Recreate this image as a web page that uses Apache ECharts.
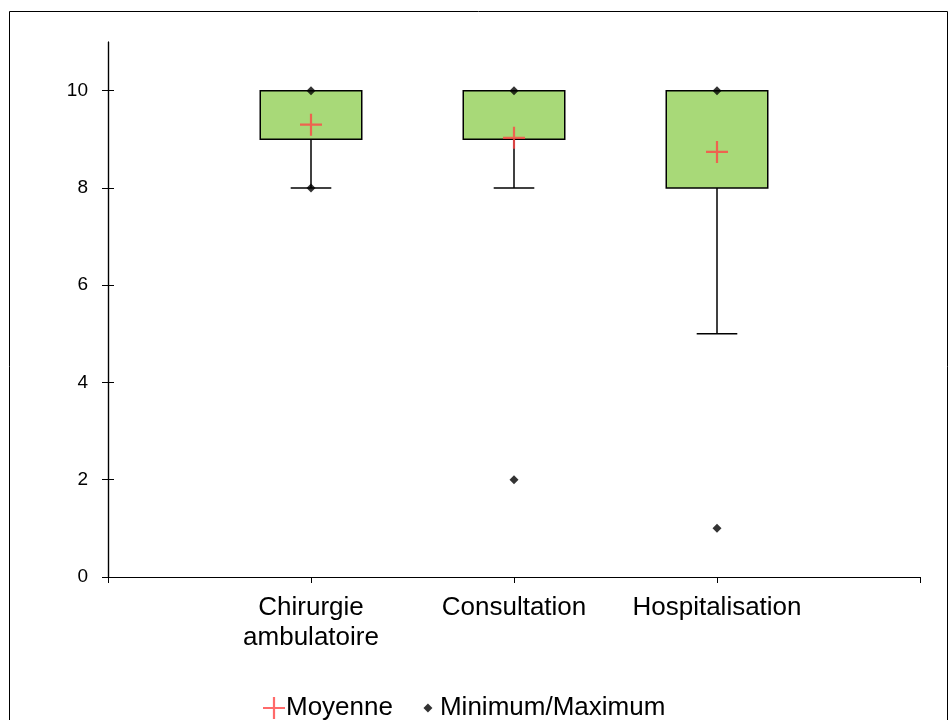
<!DOCTYPE html>
<html>
<head>
<meta charset="utf-8">
<script src="https://cdn.jsdelivr.net/npm/echarts@6/dist/echarts.min.js"></script>
<style>html,body{margin:0;padding:0;background:#fff}#c{width:951px;height:720px}</style>
</head>
<body>
<div id="c"></div>
<script>
const categories = ['Chirurgie\nambulatoire', 'Consultation', 'Hospitalisation'];
const q1 = [9, 9, 8];
const q3 = [10, 10, 10];
const whiskerLow = [8, 8, 5];
const whiskerHigh = [10, 10, 10];
const mean = [9.3, 9.03, 8.74];
const minimum = [8, 2, 1];
const maximum = [10, 10, 10];
const yTicks = [0, 2, 4, 6, 8, 10];

const FONT = '"Liberation Sans", Arial, sans-serif';
const boxData = categories.map((c, i) => [i + 1, q1[i], q3[i], whiskerLow[i], whiskerHigh[i]]);
const meanData = categories.map((c, i) => [i + 1, mean[i]]);
const minMaxData = [];
categories.forEach((c, i) => { minMaxData.push([i + 1, minimum[i]]); minMaxData.push([i + 1, maximum[i]]); });

const plusPath = 'path://M0,4.5H10V5.5H0Z M4.5,0H5.5V10H4.5Z';
const smallDiamond = 'path://M0,0M22,22M11,6.5L15.5,11L11,15.5L6.5,11Z';

const chart = echarts.init(document.getElementById('c'));
chart.setOption({
  animation: false,
  backgroundColor: '#fff',
  graphic: [{
    type: 'rect', silent: true,
    shape: { x: 9.5, y: 11.5, width: 938, height: 730 },
    style: { fill: 'none', stroke: '#000', lineWidth: 1 }
  }],
  grid: { left: 108, right: 31, top: 42, bottom: 143 },
  legend: {
    left: 258, top: 690,
    itemWidth: 22, itemHeight: 22, itemGap: 24,
    textStyle: { fontFamily: FONT, fontSize: 26, color: '#000', padding: [0, 0, 0, -4] },
    data: [
      { name: 'Moyenne', icon: plusPath, itemStyle: { color: '#ff4545' } },
      { name: 'Minimum/Maximum', icon: smallDiamond, itemStyle: { color: '#000' } }
    ]
  },
  xAxis: {
    type: 'value', min: 0, max: 4, interval: 1,
    splitLine: { show: false },
    axisLine: { show: true, lineStyle: { color: '#000', width: 1.2 } },
    axisTick: { show: true, length: 6, lineStyle: { color: '#000' }, customValues: [0, 1, 2, 3, 4] },
    axisLabel: {
      customValues: [1, 2, 3],
      margin: 16,
      fontFamily: FONT, fontSize: 26, color: '#000', lineHeight: 30,
      formatter: v => categories[Math.round(v) - 1] || ''
    }
  },
  yAxis: [{
    type: 'value', min: 0, max: 11, interval: 2,
    splitLine: { show: false },
    axisLine: { show: true, lineStyle: { color: '#000', width: 1.2 } },
    axisTick: { show: true, length: 6, lineStyle: { color: '#000' }, customValues: yTicks },
    axisLabel: { customValues: yTicks, margin: 20, fontFamily: FONT, fontSize: 19, color: '#000' }
  }, {
    type: 'value', min: 0, max: 11, interval: 2, position: 'right', offset: -812,
    splitLine: { show: false },
    axisLine: { show: true, onZero: false, lineStyle: { color: '#000', width: 1.2 } },
    axisTick: { show: true, inside: false, length: 6, lineStyle: { color: '#000' }, customValues: yTicks },
    axisLabel: { show: false }
  }],
  series: [{
    type: 'custom',
    name: 'box',
    z: 2,
    data: boxData,
    encode: { x: 0, y: [1, 2, 3, 4] },
    renderItem: function (params, api) {
      const x = api.value(0);
      const pQ1 = api.coord([x, api.value(1)]);
      const pQ3 = api.coord([x, api.value(2)]);
      const pLo = api.coord([x, api.value(3)]);
      const pHi = api.coord([x, api.value(4)]);
      const bw = api.size([1, 0])[0] * 0.5;
      const cw = api.size([1, 0])[0] * 0.2;
      return {
        type: 'group',
        children: [
          { type: 'line', shape: { x1: pQ1[0], y1: pQ1[1], x2: pLo[0], y2: pLo[1] }, style: { stroke: '#000', lineWidth: 1.5 } },
          { type: 'line', shape: { x1: pLo[0] - cw / 2, y1: pLo[1], x2: pLo[0] + cw / 2, y2: pLo[1] }, style: { stroke: '#000', lineWidth: 1.5 } },
          { type: 'line', shape: { x1: pQ3[0], y1: pQ3[1], x2: pHi[0], y2: pHi[1] }, style: { stroke: '#000', lineWidth: 1.5 } },
          { type: 'line', shape: { x1: pHi[0] - cw / 2, y1: pHi[1], x2: pHi[0] + cw / 2, y2: pHi[1] }, style: { stroke: '#000', lineWidth: 1.5 } },
          { type: 'rect', shape: { x: pQ3[0] - bw / 2, y: pQ3[1], width: bw, height: pQ1[1] - pQ3[1] }, style: { fill: '#a8d978', stroke: '#000', lineWidth: 1.5 } }
        ]
      };
    }
  }, {
    type: 'scatter', name: 'Moyenne', z: 4,
    yAxisIndex: 1,
    symbol: plusPath, symbolSize: 22,
    itemStyle: { color: '#ff4545' },
    data: meanData
  }, {
    type: 'scatter', name: 'Minimum/Maximum', z: 5,
    symbol: 'diamond', symbolSize: 9,
    itemStyle: { color: '#000' },
    data: minMaxData
  }]
});
</script>
</body>
</html>
